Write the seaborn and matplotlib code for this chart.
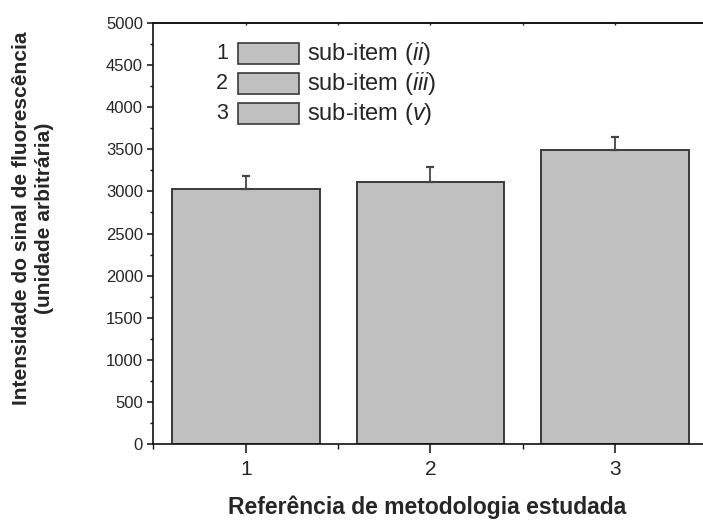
import matplotlib
matplotlib.use("Agg")
import matplotlib.pyplot as plt
from matplotlib.patches import Rectangle
from matplotlib.ticker import MultipleLocator, FixedLocator
import numpy as np
import pandas as pd
import seaborn as sns

# Measured fluorescence signal per methodology reference
referencias = ["1", "2", "3"]
intensidade = [3025, 3105, 3485]
desvio = [160, 180, 155]
subitens = ["ii", "iii", "v"]

sns.set_style("ticks")
plt.rcParams["font.family"] = ["Liberation Sans", "DejaVu Sans"]
plt.rcParams["mathtext.fontset"] = "custom"
plt.rcParams["mathtext.rm"] = "Liberation Sans"
plt.rcParams["mathtext.it"] = "Liberation Sans:italic"

df = pd.DataFrame({"referencia": referencias, "intensidade": intensidade})

fig = plt.figure(figsize=(7.03, 5.20), dpi=100)
ax = fig.add_axes([0.2181, 0.1456, 0.7884, 0.8107])

bar_fill = "#c0c0c0"
bar_edge = "#3a3a3a"
sns.barplot(data=df, x="referencia", y="intensidade", color=bar_fill,
            edgecolor=bar_edge, linewidth=1.4, width=0.8, saturation=1,
            errorbar=None, ax=ax)

# upper-only error bars
x_pos = np.arange(len(referencias))
ax.errorbar(x_pos, intensidade, yerr=[np.zeros(len(desvio)), desvio],
            fmt="none", ecolor="#444444", elinewidth=1.3, capsize=2.7,
            capthick=1.6, zorder=3)

ax.set_xlim(-0.5, 2.5)
ax.set_ylim(0, 5000)
ax.yaxis.set_major_locator(MultipleLocator(500))
ax.yaxis.set_minor_locator(MultipleLocator(250))
ax.xaxis.set_minor_locator(FixedLocator([-0.5, 0.5, 1.5, 2.5]))

for s in ax.spines.values():
    s.set_visible(True)
    s.set_linewidth(1.2)
    s.set_color("#111111")

ax.tick_params(axis="y", which="major", direction="out", length=4.5,
               width=1.1, labelsize=12, pad=3, color="#111111")
ax.tick_params(axis="y", which="minor", direction="out", length=2.5,
               width=1.0, color="#111111")
ax.tick_params(axis="x", which="major", direction="out", length=6.5,
               width=1.1, labelsize=15, pad=5, color="#111111")
ax.tick_params(axis="x", which="minor", direction="out", length=3.6,
               width=1.0, color="#111111")

top = ax.secondary_xaxis("top")
top.set_xticks(x_pos)
top.xaxis.set_minor_locator(FixedLocator([0.5, 1.5]))
top.tick_params(which="both", direction="in", length=1.5, width=1.0,
                labeltop=False)
top.spines["top"].set_linewidth(1.2)

ax.set_xlabel("")
ax.set_ylabel("")
fig.text(0.608, 0.025, "Referência de metodologia estudada",
         fontsize=16.5, fontweight="bold", ha="center", va="center")
fig.text(0.047, 0.58, "Intensidade do sinal de fluorescência\n(unidade arbitrária)",
         fontsize=15.1, fontweight="bold", rotation=90, ha="center",
         va="center", linespacing=1.25, multialignment="center")

# legend in the numbered box style
patch_x0, patch_w, patch_h = 0.1528, 0.110, 0.050
row_y = [0.9265, 0.8553, 0.7842]
for num, sub, yc in zip(referencias, subitens, row_y):
    ax.add_patch(Rectangle((patch_x0, yc - patch_h / 2), patch_w, patch_h,
                           transform=ax.transAxes, facecolor=bar_fill,
                           edgecolor=bar_edge, linewidth=1.2, clip_on=False))
    ax.text(patch_x0 - 0.018, yc, num, transform=ax.transAxes,
            fontsize=15.5, ha="right", va="center")
    ax.text(patch_x0 + patch_w + 0.015, yc, rf"sub-item ($\mathit{{{sub}}}$)",
            transform=ax.transAxes, fontsize=17, ha="left", va="center")

fig.savefig("out.png", dpi=100)
